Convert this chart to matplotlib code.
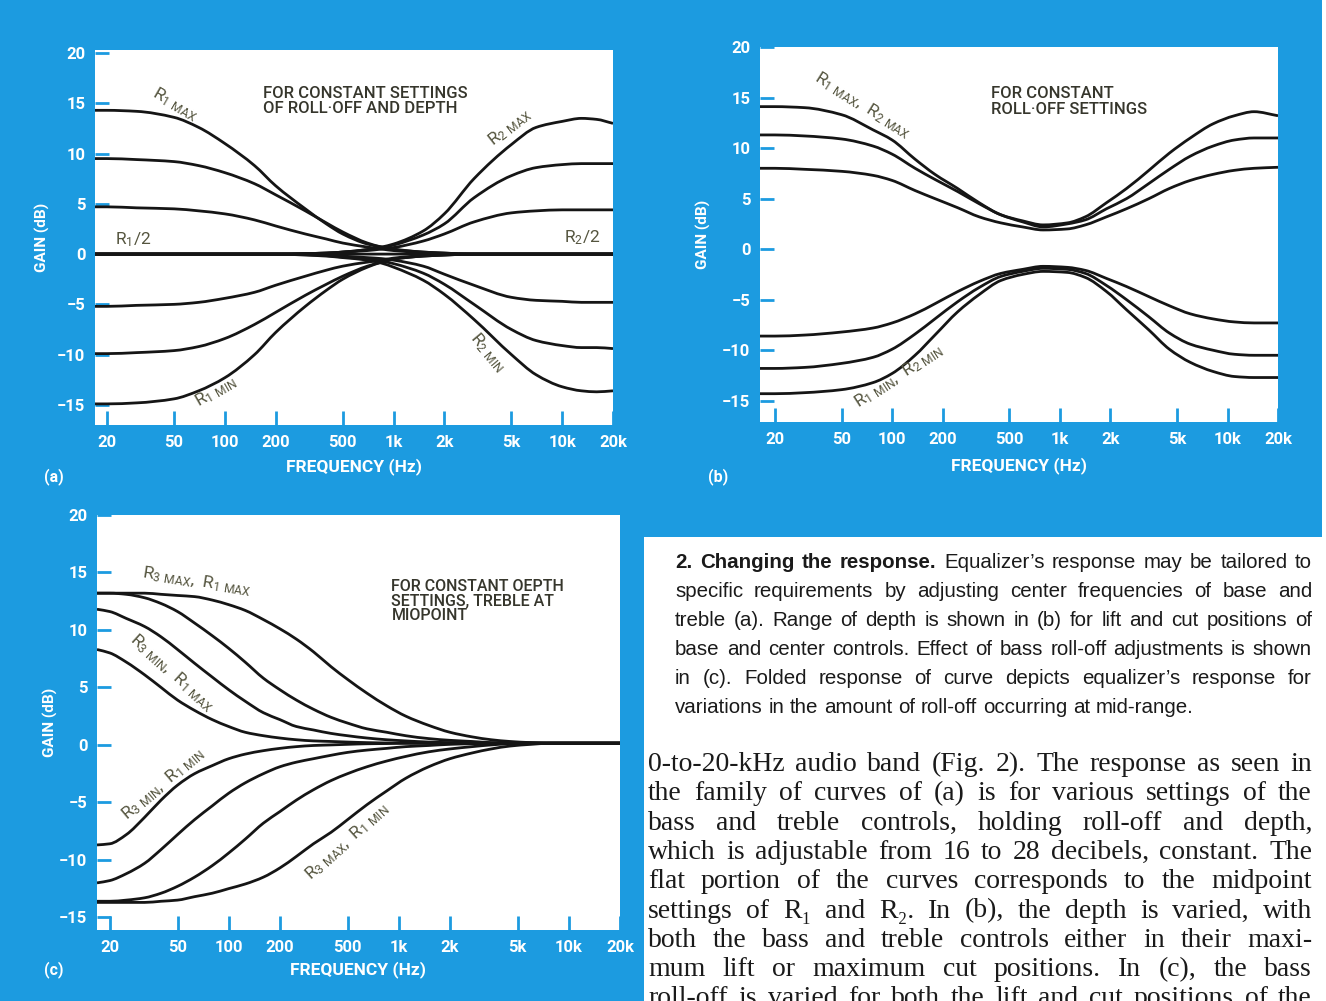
import matplotlib
matplotlib.use('Agg')
import numpy as np
import matplotlib.pyplot as plt
from matplotlib.patches import Rectangle, PathPatch
from matplotlib.path import Path
from matplotlib.ticker import NullLocator

# ---------------- data ----------------
x_ticks = [20, 50, 100, 200, 500, 1000, 2000, 5000, 10000, 20000]
x_ticklabels = ['20', '50', '100', '200', '500', '1k', '2k', '5k', '10k', '20k']
y_ticks = [20, 15, 10, 5, 0, -5, -10, -15]
y_ticklabels = ['20', '15', '10', '5', '0', '\u22125', '\u221210', '\u221215']

# (a) bass / treble settings, roll-off and depth constant
a_freq = [17, 20, 30, 50, 70, 100, 150, 200, 300, 400, 500, 700, 850,
          1000, 1500, 2000, 3000, 5000, 7000, 10000, 13000, 16000, 20000]
a_r1_max = [14.3, 14.3, 14.2, 13.6, 12.6, 11.0, 8.8, 6.8, 4.5, 3.0, 2.0, 1.0, 0.7,
            0.5, 0.2, 0.1, 0, 0, 0, 0, 0, 0, 0]
a_r1_p10 = [9.5, 9.5, 9.4, 9.2, 8.8, 8.1, 7.0, 5.9, 4.3, 3.1, 2.2, 1.1, 0.7,
            0.45, 0.2, 0.1, 0, 0, 0, 0, 0, 0, 0]
a_r1_p5 = [4.7, 4.7, 4.6, 4.5, 4.3, 4.0, 3.4, 2.8, 2.0, 1.5, 1.1, 0.7, 0.5,
           0.35, 0.15, 0.05, 0, 0, 0, 0, 0, 0, 0]
a_mid = [0, 0, 0, 0, 0, 0, 0, 0, 0, 0, 0, 0, 0,
         0, 0, 0, 0, 0, 0, 0, 0, 0, 0]
a_r1_m5 = [-5.2, -5.2, -5.1, -5.0, -4.8, -4.4, -3.8, -3.1, -2.2, -1.6, -1.2, -0.8, -0.6,
           -0.4, -0.15, -0.05, 0, 0, 0, 0, 0, 0, 0]
a_r1_m10 = [-9.9, -9.9, -9.8, -9.6, -9.2, -8.4, -7.0, -5.8, -4.1, -3.0, -2.2, -1.2, -0.8,
            -0.5, -0.2, -0.1, 0, 0, 0, 0, 0, 0, 0]
a_r1_min = [-14.9, -14.9, -14.8, -14.4, -13.6, -12.3, -10.0, -7.8, -5.2, -3.6, -2.5, -1.3, -0.8,
            -0.5, -0.2, -0.1, 0, 0, 0, 0, 0, 0, 0]
a_r2_max = [0, 0, 0, 0, 0, 0, 0, 0, 0.05, 0.1, 0.2, 0.45, 0.7,
            1.0, 2.3, 4.0, 7.5, 10.9, 12.6, 13.2, 13.5, 13.4, 13.0]
a_r2_p9 = [0, 0, 0, 0, 0, 0, 0, 0, 0.05, 0.1, 0.2, 0.45, 0.65,
           0.9, 1.9, 3.0, 5.6, 7.8, 8.6, 8.9, 9.0, 9.0, 9.0]
a_r2_p4 = [0, 0, 0, 0, 0, 0, 0, 0, 0.05, 0.1, 0.2, 0.35, 0.5,
           0.65, 1.3, 2.0, 3.2, 4.1, 4.3, 4.4, 4.4, 4.4, 4.4]
a_r2_m4 = [0, 0, 0, 0, 0, 0, 0, 0, -0.05, -0.1, -0.2, -0.35, -0.45,
           -0.6, -1.2, -2.0, -3.1, -4.3, -4.6, -4.7, -4.8, -4.8, -4.8]
a_r2_m9 = [0, 0, 0, 0, 0, 0, 0, 0, -0.05, -0.15, -0.3, -0.5, -0.7,
           -0.95, -1.9, -3.0, -5.0, -7.5, -8.6, -9.1, -9.3, -9.3, -9.4]
a_r2_min = [0, 0, 0, 0, 0, 0, 0, 0, -0.1, -0.2, -0.35, -0.6, -0.9,
            -1.3, -2.6, -4.0, -6.5, -10.0, -12.0, -13.2, -13.6, -13.7, -13.6]

# (b) depth varied, roll-off constant
b_freq = [16.3, 20, 30, 50, 77, 100, 137, 180, 246, 330, 445, 600, 795,
          1110, 1420, 1900, 2500, 3400, 4500, 6000, 8200, 11000, 14400, 20000]
b_lift_max = [14.1, 14.1, 14.0, 13.3, 11.8, 10.8, 8.9, 7.4, 6.0, 4.6, 3.4, 2.8, 2.4,
              2.6, 3.2, 4.6, 6.0, 7.8, 9.5, 11.0, 12.4, 13.2, 13.6, 13.2]
b_lift_mid = [11.3, 11.3, 11.2, 10.9, 10.2, 9.4, 8.0, 6.9, 5.7, 4.5, 3.4, 2.7, 2.2,
              2.5, 2.9, 4.0, 5.0, 6.5, 7.9, 9.2, 10.2, 10.8, 11.0, 11.0]
b_lift_low = [8.0, 8.0, 7.9, 7.7, 7.3, 6.8, 5.8, 5.0, 4.1, 3.2, 2.6, 2.2, 1.9,
              2.0, 2.4, 3.2, 4.0, 5.0, 6.0, 6.8, 7.4, 7.8, 8.0, 8.1]
b_cut_low = [-8.6, -8.6, -8.5, -8.2, -7.8, -7.3, -6.4, -5.4, -4.2, -3.2, -2.4, -2.0, -1.7,
             -1.8, -2.1, -2.9, -3.7, -4.7, -5.6, -6.4, -6.9, -7.2, -7.3, -7.3]
b_cut_mid = [-11.8, -11.8, -11.7, -11.3, -10.7, -9.9, -8.4, -6.9, -5.2, -3.8, -2.7, -2.2, -1.9,
             -2.0, -2.4, -3.6, -5.0, -6.7, -8.3, -9.4, -10.0, -10.4, -10.5, -10.5]
b_cut_max = [-14.3, -14.3, -14.2, -13.9, -13.2, -12.3, -10.5, -8.5, -6.2, -4.5, -3.1, -2.5, -2.2,
             -2.3, -2.8, -4.2, -6.0, -8.0, -9.9, -11.2, -12.1, -12.6, -12.7, -12.7]

# (c) bass roll-off varied, depth constant, treble at midpoint
c_freq = [16.8, 20, 25, 32, 40, 50, 63, 80, 100, 125, 160, 200, 250, 315,
          400, 500, 650, 850, 1100, 1500, 2000, 2700, 3500, 4500, 6000, 8000, 20000]
c_up1 = [13.2, 13.2, 13.2, 13.2, 13.1, 13.0, 12.9, 12.6, 12.2, 11.7, 10.9, 10.1, 9.2, 8.1,
         6.8, 5.7, 4.5, 3.4, 2.5, 1.7, 1.1, 0.7, 0.45, 0.3, 0.2, 0.15, 0.15]
c_up2 = [13.2, 13.2, 13.1, 12.8, 12.3, 11.6, 10.6, 9.5, 8.4, 7.2, 5.8, 4.8, 3.9, 3.1,
         2.4, 1.9, 1.4, 1.1, 0.8, 0.55, 0.4, 0.3, 0.2, 0.17, 0.15, 0.15, 0.15]
c_up3 = [11.8, 11.6, 11.0, 10.3, 9.4, 8.3, 7.1, 5.9, 4.8, 3.8, 2.8, 2.2, 1.6, 1.3,
         1.0, 0.8, 0.6, 0.45, 0.35, 0.25, 0.2, 0.17, 0.15, 0.15, 0.15, 0.15, 0.15]
c_up4 = [8.3, 8.0, 7.2, 6.1, 5.0, 3.9, 3.0, 2.2, 1.6, 1.1, 0.8, 0.6, 0.45, 0.35,
         0.3, 0.25, 0.2, 0.17, 0.15, 0.15, 0.15, 0.15, 0.15, 0.15, 0.15, 0.15, 0.15]
c_lo4 = [-8.7, -8.6, -7.8, -6.3, -4.8, -3.5, -2.5, -1.8, -1.2, -0.8, -0.5, -0.3, -0.15, -0.05,
         0, 0.05, 0.1, 0.12, 0.15, 0.15, 0.15, 0.15, 0.15, 0.15, 0.15, 0.15, 0.15]
c_lo3 = [-12.0, -11.8, -11.2, -10.3, -9.1, -7.8, -6.5, -5.3, -4.2, -3.3, -2.5, -1.9, -1.5, -1.2,
         -0.9, -0.65, -0.45, -0.3, -0.15, -0.05, 0.05, 0.1, 0.12, 0.15, 0.15, 0.15, 0.15]
c_lo2 = [-13.6, -13.6, -13.5, -13.3, -12.9, -12.3, -11.5, -10.5, -9.4, -8.2, -6.8, -5.8, -4.8, -3.9,
         -3.1, -2.5, -1.9, -1.4, -1.0, -0.6, -0.35, -0.15, 0, 0.1, 0.15, 0.15, 0.15]
c_lo1 = [-13.7, -13.7, -13.7, -13.7, -13.6, -13.5, -13.2, -12.9, -12.5, -12.1, -11.5, -10.7, -9.7, -8.6,
         -7.6, -6.5, -5.2, -4.0, -2.9, -1.9, -1.2, -0.7, -0.35, -0.1, 0.05, 0.15, 0.15]

caption_lines = [
    "2. Changing the response. Equalizer\u2019s response may be tailored to",
    "specific requirements by adjusting center frequencies of base and",
    "treble (a). Range of depth is shown in (b) for lift and cut positions of",
    "base and center controls. Effect of bass roll-off adjustments is shown",
    "in (c). Folded response of curve depicts equalizer\u2019s response for",
    "variations in the amount of roll-off occurring at mid-range.",
]
body_lines = [
    "0-to-20-kHz audio band (Fig. 2). The response as seen in",
    "the family of curves of (a) is for various settings of the",
    "bass and treble controls, holding roll-off and depth,",
    "which is adjustable from 16 to 28 decibels, constant. The",
    "flat portion of the curves corresponds to the midpoint",
    "settings of R\u2081 and R\u2082. In (b), the depth is varied, with",
    "both the bass and treble controls either in their maxi-",
    "mum lift or maximum cut positions. In (c), the bass",
    "roll-off is varied for both the lift and cut positions of the",
]

# ---------------- styling ----------------
BLUE = '#1c9be0'
INK = '#151515'
LABEL = '#55553f'
NOTE = '#36362c'
COND = ['Roboto', 'DejaVu Sans']
W, H = 1326, 1001

fig = plt.figure(figsize=(W / 100, H / 100), dpi=100)
fig.patch.set_facecolor(BLUE)
# white text block, lower right, and the page edge on the right
fig.add_artist(Rectangle((644 / W, 0), 1, (H - 537) / H, transform=fig.transFigure,
                         facecolor='white', edgecolor='none', zorder=0))
fig.add_artist(Rectangle((1322 / W, 0), 1, 1, transform=fig.transFigure,
                         facecolor='white', edgecolor='none', zorder=0))


def panel(left, top, right, bottom, xlim, ylim, tag, tag_xy, ylab_x, xlab_y):
    ax = fig.add_axes([left / W, 1 - bottom / H, (right - left) / W, (bottom - top) / H])
    ax.set_facecolor('white')
    ax.set_xscale('log')
    ax.set_xlim(xlim)
    ax.set_ylim(ylim)
    for s in ax.spines.values():
        s.set_visible(False)
    ax.set_xticks(x_ticks)
    ax.set_xticklabels(x_ticklabels, family=COND, fontweight='bold', fontsize=12)
    ax.xaxis.set_minor_locator(NullLocator())
    ax.set_yticks(y_ticks)
    ax.set_yticklabels(y_ticklabels, family=COND, fontweight='bold', fontsize=12)
    ax.tick_params(direction='in', color=BLUE, length=10, width=2,
                   labelcolor='white', pad=7)
    ax.set_xlabel('FREQUENCY (Hz)', color='white', fontweight='bold',
                  family=COND, fontsize=12.5, va='center')
    ax.xaxis.set_label_coords(0.5, -(xlab_y - bottom) / (bottom - top))
    ax.set_ylabel('GAIN (dB)', color='white', fontweight='bold',
                  family=COND, fontsize=11, va='center')
    ax.yaxis.set_label_coords(-(left - ylab_x) / (right - left), 0.5)
    fig.text(tag_xy[0] / W, 1 - tag_xy[1] / H, tag, color='white', fontweight='bold',
             family=COND, fontsize=11.5, ha='left', va='center')
    return ax


def smooth_curve(ax, freq, gain):
    # monotone cubic (Fritsch-Carlson) drawn as Bezier segments in log-frequency
    u = np.log10(np.asarray(freq, float))
    y = np.asarray(gain, float)
    h = np.diff(u)
    d = np.diff(y) / h
    m = np.zeros_like(y)
    m[0], m[-1] = d[0], d[-1]
    for k in range(1, len(y) - 1):
        if d[k - 1] * d[k] > 0:
            w1, w2 = 2 * h[k] + h[k - 1], h[k] + 2 * h[k - 1]
            m[k] = (w1 + w2) / (w1 / d[k - 1] + w2 / d[k])
    verts, codes = [(freq[0], y[0])], [Path.MOVETO]
    for k in range(len(h)):
        c1 = (10 ** (u[k] + h[k] / 3), y[k] + m[k] * h[k] / 3)
        c2 = (10 ** (u[k + 1] - h[k] / 3), y[k + 1] - m[k + 1] * h[k] / 3)
        verts += [c1, c2, (freq[k + 1], y[k + 1])]
        codes += [Path.CURVE4] * 3
    ax.add_patch(PathPatch(Path(verts, codes), fill=False, edgecolor=INK,
                           lw=2.0, zorder=3, capstyle='butt'))


def curves(ax, freq, series):
    for ys in series:
        smooth_curve(ax, freq, ys)


def tag(ax, f, g, s, rot, size=12.5):
    ax.text(f, g, s, rotation=rot, rotation_mode='anchor', ha='center', va='center',
            color=LABEL, fontsize=size, family=COND, zorder=4)


def note(ax, x, y, s, size, ls):
    ax.text(x, y, s, transform=ax.transAxes, ha='left', va='top', color=NOTE,
            family=COND, fontweight='medium', fontsize=size, linespacing=ls)


# (a)
ax_a = panel(95, 50, 613, 425, (17, 20000), (-17.0, 20.3), '(a)', (44, 477), 42, 467)
curves(ax_a, a_freq, [a_r1_max, a_r1_p10, a_r1_p5, a_mid, a_r1_m5, a_r1_m10, a_r1_min,
                      a_r2_max, a_r2_p9, a_r2_p4, a_r2_m4, a_r2_m9, a_r2_min])
tag(ax_a, 51, 14.9, r'$\mathregular{R_{1\ MAX}}$', -30)
tag(ax_a, 4900, 12.6, r'$\mathregular{R_{2\ MAX}}$', 38)
tag(ax_a, 28.5, 1.4, r'$\mathregular{R_1/2}$', 0)
tag(ax_a, 13100, 1.6, r'$\mathregular{R_2/2}$', 0)
tag(ax_a, 3600, -9.8, r'$\mathregular{R_{2\ MIN}}$', -50)
tag(ax_a, 89, -13.7, r'$\mathregular{R_{1\ MIN}}$', 30)
note(ax_a, 0.325, 0.905, 'FOR CONSTANT SETTINGS\nOF ROLL\u00b7OFF AND DEPTH', 12, 1.05)

# (b)
ax_b = panel(760, 47, 1278, 422, (16.3, 20000), (-17.1, 20.0), '(b)', (708, 477), 703, 466)
curves(ax_b, b_freq, [b_lift_max, b_lift_mid, b_lift_low, b_cut_low, b_cut_mid, b_cut_max])
tag(ax_b, 67, 14.2, r'$\mathregular{R_{1\ MAX},\ R_{2\ MAX}}$', -32)
tag(ax_b, 110, -12.6, r'$\mathregular{R_{1\ MIN},\ R_{2\ MIN}}$', 33)
note(ax_b, 0.446, 0.895, 'FOR CONSTANT\nROLL\u00b7OFF SETTINGS', 12, 1.05)

# (c)
ax_c = panel(97, 515, 620, 930, (16.8, 20000), (-16.1, 20.0), '(c)', (44, 970), 50, 970)
curves(ax_c, c_freq, [c_up1, c_up2, c_up3, c_up4, c_lo4, c_lo3, c_lo2, c_lo1])
tag(ax_c, 65, 14.2, r'$\mathregular{R_{3\ MAX},\ R_{1\ MAX}}$', -9)
tag(ax_c, 46, 6.3, r'$\mathregular{R_{3\ MIN},\ R_{1\ MAX}}$', -42)
tag(ax_c, 41, -3.4, r'$\mathregular{R_{3\ MIN},\ R_{1\ MIN}}$', 40)
tag(ax_c, 500, -8.4, r'$\mathregular{R_{3\ MAX},\ R_{1\ MIN}}$', 42)
note(ax_c, 0.563, 0.845, 'FOR CONSTANT OEPTH\nSETTINGS, TREBLE AT\nMIOPOINT', 11.5, 0.95)

# ---------------- justified text blocks ----------------
renderer = fig.canvas.get_renderer()


def width_of(s, **kw):
    t = fig.text(0, 0, s, **kw)
    w = t.get_window_extent(renderer).width
    t.remove()
    return w


def set_line(words, weights, x0, x1, base, justify, size, family):
    space = width_of('n n', family=family, fontsize=size) - width_of('nn', family=family, fontsize=size)
    widths = [width_of(w, family=family, fontsize=size, fontweight=wt)
              for w, wt in zip(words, weights)]
    natural = sum(widths) + space * (len(words) - 1)
    if natural > (x1 - x0):
        size = size * (x1 - x0) / natural * 0.995
        widths = [width_of(w, family=family, fontsize=size, fontweight=wt)
                  for w, wt in zip(words, weights)]
        space = space * (x1 - x0) / natural * 0.995
    gap = (x1 - x0 - sum(widths)) / (len(words) - 1) if justify else space
    x = x0
    for w, wt, wd in zip(words, weights, widths):
        fig.text(x / W, 1 - base / H, w, va='baseline', ha='left', fontsize=size,
                 fontweight=wt, family=family, color='#1a1a1a')
        x += wd + gap


for i, line in enumerate(caption_lines):
    words = line.split(' ')
    weights = ['bold' if (i == 0 and k < 4) else 'normal' for k in range(len(words))]
    set_line(words, weights, 675, 1312, 568 + 29 * i, i < len(caption_lines) - 1,
             14.8, ['Liberation Sans', 'DejaVu Sans'])

for i, line in enumerate(body_lines):
    words = line.split(' ')
    set_line(words, ['normal'] * len(words), 648, 1312, 771 + 29.3 * i, True,
             20, ['Liberation Serif', 'DejaVu Serif'])

fig.savefig('out.png', dpi=100, facecolor=fig.get_facecolor())
